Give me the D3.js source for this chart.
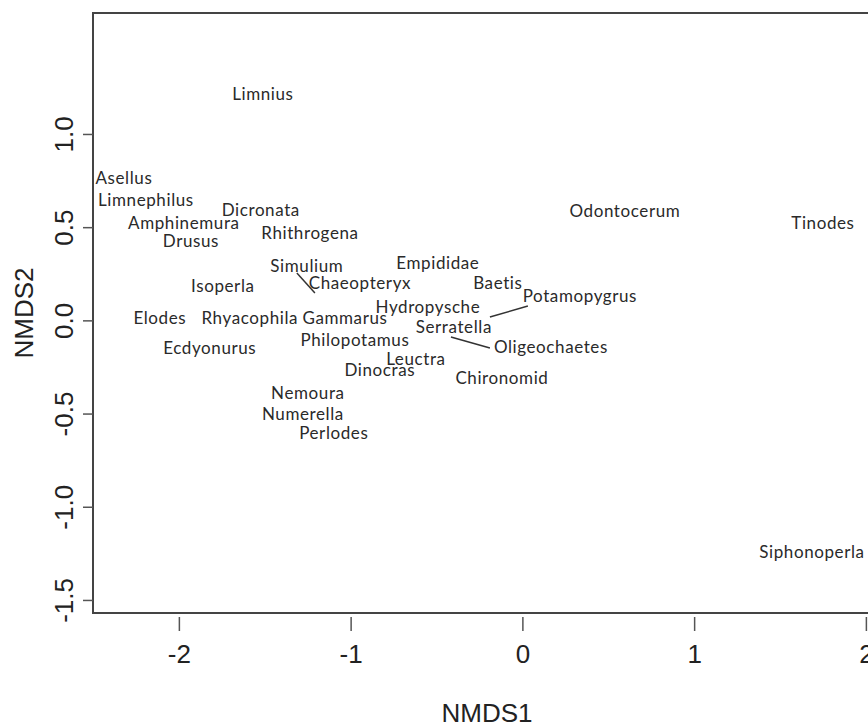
<!DOCTYPE html>
<html>
<head>
<meta charset="utf-8">
<script src="https://cdn.jsdelivr.net/npm/d3@7"></script>
<style>
  html, body { margin: 0; padding: 0; background: #fff; overflow: hidden; }
  svg { display: block; }
</style>
</head>
<body>
<svg id="chart" width="868" height="728"></svg>
<script>
// ---- data (NMDS species scores) ----
const species = ["Limnius","Asellus","Limnephilus","Dicronata","Amphinemura","Drusus","Rhithrogena",
  "Simulium","Isoperla","Chaeopteryx","Empididae","Baetis","Potamopygrus","Hydropysche","Elodes",
  "Rhyacophila","Gammarus","Serratella","Philopotamus","Ecdyonurus","Oligeochaetes","Leuctra",
  "Dinocras","Chironomid","Nemoura","Numerella","Perlodes","Odontocerum","Tinodes","Siphonoperla"];
const nmds1 = [-1.511,-2.320,-2.192,-1.523,-1.971,-1.930,-1.237,
  -1.255,-1.744,-0.946,-0.492,-0.143,0.335,-0.550,-2.111,
  -1.587,-1.033,-0.399,-0.975,-1.820,0.166,-0.620,
  -0.830,-0.119,-1.249,-1.278,-1.098,0.597,1.750,1.686];
const nmds2 = [1.215,0.764,0.646,0.593,0.523,0.426,0.469,
  0.297,0.185,0.201,0.308,0.201,0.136,0.077,0.018,
  0.018,0.013,-0.035,-0.100,-0.148,-0.142,-0.202,
  -0.266,-0.304,-0.389,-0.497,-0.599,0.587,0.523,-1.242];
// leader lines (label displaced from point)
const leaderX1 = [-1.313,-0.189,-0.416];
const leaderY1 = [0.254,0.018,-0.089];
const leaderX2 = [-1.208,0.032,-0.189];
const leaderY2 = [0.147,0.077,-0.148];
const xTicks = [-2,-1,0,1,2];
const yTicks = [-1.5,-1.0,-0.5,0.0,0.5,1.0];
const xTitle = "NMDS1", yTitle = "NMDS2";

// ---- layout ----
const svg = d3.select("#chart");
const pL = 93, pR = 881, pT = 13, pB = 613;
const x = d3.scaleLinear().domain([-2.5, 2.088]).range([pL, pR]);
const y = d3.scaleLinear().domain([-1.570, 1.649]).range([pB, pT]);

// leader lines
svg.append("g").selectAll("line").data(leaderX1).join("line")
  .attr("x1", (d,i) => x(leaderX1[i])).attr("y1", (d,i) => y(leaderY1[i]))
  .attr("x2", (d,i) => x(leaderX2[i])).attr("y2", (d,i) => y(leaderY2[i]))
  .attr("stroke", "#333").attr("stroke-width", 1.5);

// labels
svg.append("g").selectAll("text").data(species).join("text")
  .attr("x", (d,i) => x(nmds1[i]))
  .attr("y", (d,i) => y(nmds2[i]))
  .attr("text-anchor", "middle")
  .attr("dominant-baseline", "central")
  .attr("font-family", "Lato, 'Open Sans', sans-serif")
  .attr("font-size", 17)
  .attr("letter-spacing", 0.6)
  .attr("fill", "#2a2a2a")
  .text(d => d);

// box
svg.append("rect").attr("x", pL).attr("y", pT)
  .attr("width", pR - pL).attr("height", pB - pT)
  .attr("fill", "none").attr("stroke", "#444").attr("stroke-width", 2);

// x axis (detached ticks like R)
const gx = svg.append("g").attr("transform", `translate(0,${pB + 4})`)
  .call(d3.axisBottom(x).tickValues(xTicks).tickFormat(d3.format("d")).tickSize(14).tickPadding(14));
gx.select(".domain").remove();
gx.selectAll(".tick line").attr("stroke", "#555").attr("stroke-width", 1.5);
gx.selectAll(".tick text").attr("font-family", "'Liberation Sans', Arial, sans-serif")
  .attr("font-size", 26).attr("fill", "#222").text(d => d3.format("d")(d).replace("−","-"));

// y axis
const gy = svg.append("g").attr("transform", `translate(${pL},0)`)
  .call(d3.axisLeft(y).tickValues(yTicks).tickFormat(d3.format(".1f")).tickSize(10));
gy.select(".domain").remove();
gy.selectAll(".tick line").attr("stroke", "#555").attr("stroke-width", 1.5);
gy.selectAll(".tick text")
  .text(d => d3.format(".1f")(d).replace("−","-"))
  .attr("transform", "rotate(-90)")
  .attr("x", 0).attr("y", -29).attr("dy", null)
  .attr("text-anchor", "middle").attr("dominant-baseline", "central")
  .attr("font-family", "'Liberation Sans', Arial, sans-serif")
  .attr("font-size", 26).attr("fill", "#222");

// axis titles
svg.append("text").attr("x", (pL + pR) / 2).attr("y", 713)
  .attr("text-anchor", "middle").attr("dominant-baseline", "central")
  .attr("font-family", "'Liberation Sans', Arial, sans-serif").attr("font-size", 26)
  .attr("fill", "#222").text(xTitle);
svg.append("text").attr("transform", `translate(24,${(pT + pB) / 2}) rotate(-90)`)
  .attr("text-anchor", "middle").attr("dominant-baseline", "central")
  .attr("font-family", "'Liberation Sans', Arial, sans-serif").attr("font-size", 26)
  .attr("fill", "#222").text(yTitle);
</script>
</body>
</html>
